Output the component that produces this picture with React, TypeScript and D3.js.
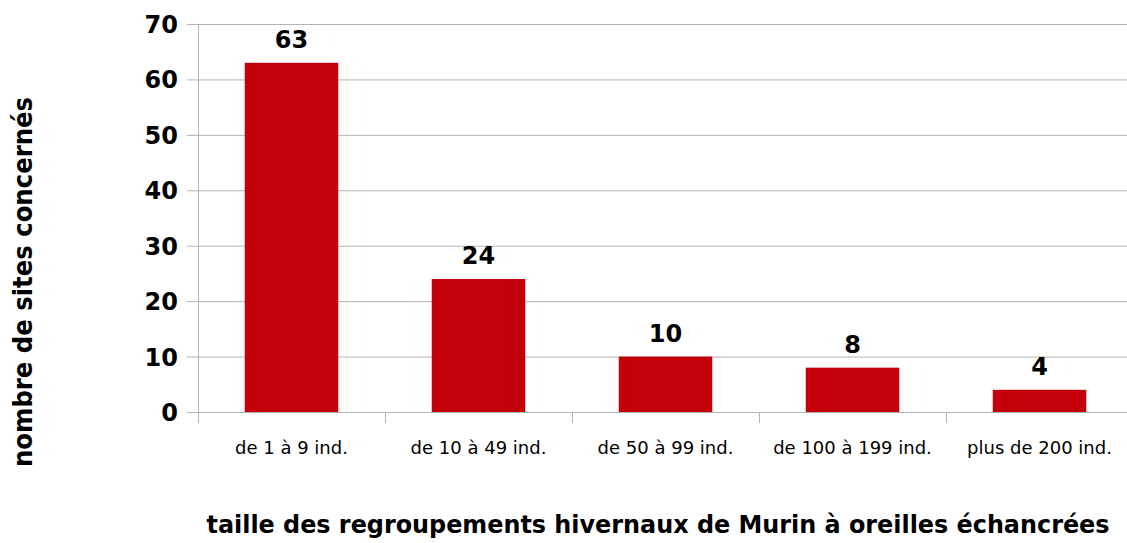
import * as d3 from "d3";
import { useEffect, useRef } from "react";

const categories = [
  "de 1 à 9 ind.",
  "de 10 à 49 ind.",
  "de 50 à 99 ind.",
  "de 100 à 199 ind.",
  "plus de 200 ind.",
];
const values = [63, 24, 10, 8, 4];
const yTicks = [0, 10, 20, 30, 40, 50, 60, 70];
const yTitle = "nombre de sites concernés";
const xTitle = "taille des regroupements hivernaux de Murin à oreilles échancrées";

const W = 1127;
const H = 543;
const FONT = "'DejaVu Sans', sans-serif";

export default function App() {
  const ref = useRef<SVGSVGElement>(null);

  useEffect(() => {
    const svg = d3.select(ref.current);
    svg.selectAll("*").remove();

    const left = 198;
    const right = 1133;
    const top = 24;
    const bottom = 412;

    const x = d3.scaleBand().domain(categories).range([left, right]).paddingInner(0.5).paddingOuter(0.25);
    const xb = d3.scaleBand().domain(categories).range([left, right]);
    const y = d3.scaleLinear().domain([0, 70]).range([bottom, top]);

    // grid lines + left ticks
    svg
      .append("g")
      .selectAll("line")
      .data(yTicks)
      .join("line")
      .attr("x1", left - 11)
      .attr("x2", right)
      .attr("y1", (d) => y(d) + 0.5)
      .attr("y2", (d) => y(d) + 0.5)
      .attr("stroke", "#b3b3b3")
      .attr("stroke-width", 1);

    // y axis line
    svg
      .append("line")
      .attr("x1", left + 0.5)
      .attr("x2", left + 0.5)
      .attr("y1", top)
      .attr("y2", bottom + 11)
      .attr("stroke", "#b3b3b3");

    // category boundary ticks
    svg
      .append("g")
      .selectAll("line")
      .data(categories.slice(1))
      .join("line")
      .attr("x1", (d) => (xb(d) as number) + 0.5)
      .attr("x2", (d) => (xb(d) as number) + 0.5)
      .attr("y1", bottom)
      .attr("y2", bottom + 11)
      .attr("stroke", "#b3b3b3");

    // bars
    svg
      .append("g")
      .selectAll("rect")
      .data(values)
      .join("rect")
      .attr("x", (d, i) => x(categories[i]) as number)
      .attr("width", x.bandwidth())
      .attr("y", (d) => y(d))
      .attr("height", (d) => y(0) - y(d))
      .attr("fill", "#c4000b");

    // value labels
    svg
      .append("g")
      .selectAll("text")
      .data(values)
      .join("text")
      .attr("x", (d, i) => (x(categories[i]) as number) + x.bandwidth() / 2)
      .attr("y", (d) => y(d) - 15)
      .attr("text-anchor", "middle")
      .attr("font-family", FONT)
      .attr("font-weight", "bold")
      .attr("font-size", 24)
      .text((d) => d);

    // y tick labels
    svg
      .append("g")
      .selectAll("text")
      .data(yTicks)
      .join("text")
      .attr("x", 178)
      .attr("y", (d) => y(d) + 9)
      .attr("text-anchor", "end")
      .attr("font-family", FONT)
      .attr("font-weight", "bold")
      .attr("font-size", 24)
      .text((d) => d);

    // category labels
    svg
      .append("g")
      .selectAll("text")
      .data(categories)
      .join("text")
      .attr("x", (d) => (xb(d) as number) + xb.bandwidth() / 2)
      .attr("y", 454)
      .attr("text-anchor", "middle")
      .attr("font-family", FONT)
      .attr("font-size", 18)
      .text((d) => d);

    // axis titles
    svg
      .append("text")
      .attr("transform", "translate(32,282) rotate(-90)")
      .attr("text-anchor", "middle")
      .attr("font-family", FONT)
      .attr("font-weight", "bold")
      .attr("font-size", 26)
      .attr("textLength", 370)
      .attr("lengthAdjust", "spacingAndGlyphs")
      .text(yTitle);

    svg
      .append("text")
      .attr("x", 658)
      .attr("y", 533)
      .attr("text-anchor", "middle")
      .attr("font-family", FONT)
      .attr("font-weight", "bold")
      .attr("font-size", 24)
      .attr("textLength", 903)
      .attr("lengthAdjust", "spacingAndGlyphs")
      .text(xTitle);
  }, []);

  return (
    <svg
      ref={ref}
      width={W}
      height={H}
      style={{ position: "absolute", left: 0, top: 0, background: "#fff" }}
    ></svg>
  );
}
